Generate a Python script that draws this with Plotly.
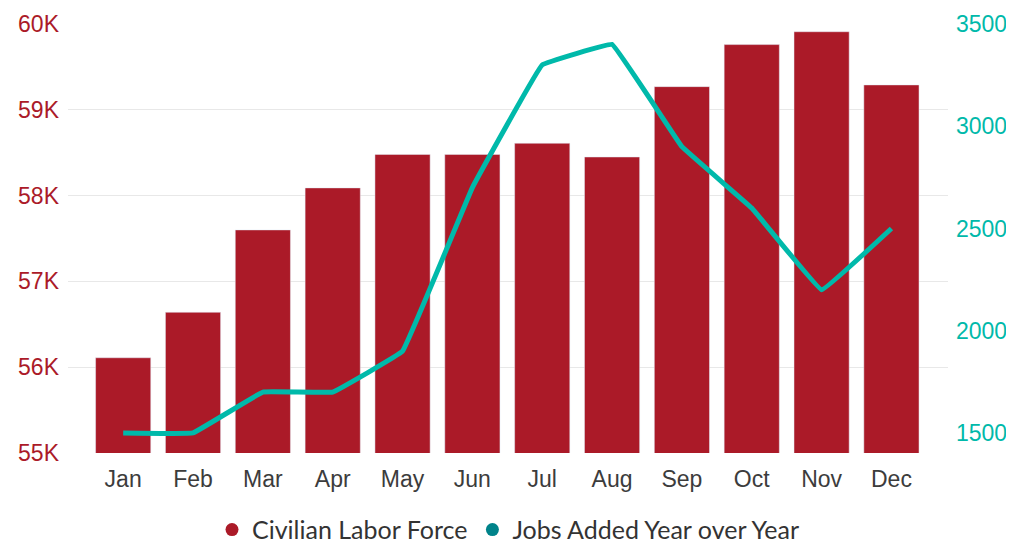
import plotly.graph_objects as go

months = ["Jan", "Feb", "Mar", "Apr", "May", "Jun", "Jul", "Aug", "Sep", "Oct", "Nov", "Dec"]
labor_force = [56110, 56640, 57600, 58090, 58480, 58480, 58610, 58450, 59270, 59760, 59910, 59290]
jobs_added = [1500, 1500, 1700, 1700, 1900, 2700, 3300, 3400, 2900, 2600, 2200, 2500]
left_ticks = [55000, 56000, 57000, 58000, 59000, 60000]
left_tick_text = ["55K", "56K", "57K", "58K", "59K", "60K"]
right_ticks = [1500, 2000, 2500, 3000, 3500]

RED = "#ab1a28"
TEAL = "#00b9aa"
TEAL_LEG = "#00838a"

fig = go.Figure()
fig.add_trace(go.Bar(x=months, y=labor_force, marker_color=RED, showlegend=False,
                     name="Civilian Labor Force"))
fig.add_trace(go.Scatter(x=months, y=jobs_added, yaxis="y2", mode="lines",
                         line=dict(color=TEAL, width=5, shape="spline", smoothing=0.15),
                         showlegend=False, name="Jobs Added Year over Year"))
fig.add_trace(go.Scatter(x=[None], y=[None], mode="markers", name="Civilian Labor Force",
                         marker=dict(color=RED, size=13, symbol="circle")))
fig.add_trace(go.Scatter(x=[None], y=[None], mode="markers", name="Jobs Added Year over Year",
                         marker=dict(color=TEAL_LEG, size=13, symbol="circle")))

fig.update_layout(
    width=1006, height=535,
    margin=dict(l=60, r=66, t=16, b=90, autoexpand=False),
    plot_bgcolor="white", paper_bgcolor="white",
    bargap=0.21,
    font=dict(family="Liberation Sans, Arial, sans-serif", size=23, color="#3c3c3c"),
    xaxis=dict(range=[-0.79, 11.81], showgrid=False, ticks="", showline=False,
               tickfont=dict(size=23, color="#3c3c3c"), ticklabelstandoff=10,
               automargin=False),
    yaxis=dict(range=[55000, 60000], tickvals=left_ticks, ticktext=left_tick_text,
               tickfont=dict(size=23, color=RED), gridcolor="#e8e8e8", gridwidth=1,
               zeroline=False, showline=False, ticklabelstandoff=8, automargin=False),
    yaxis2=dict(range=[1402, 3500], tickvals=right_ticks, overlaying="y", side="right",
                tickfont=dict(size=23, color=TEAL), showgrid=False, zeroline=False,
                showline=False, ticks="", ticklabelstandoff=7, automargin=False),
    legend=dict(orientation="h", x=0.5, xanchor="center", y=-0.179, yanchor="middle",
                font=dict(family="Lato, Noto Sans, sans-serif", size=25, color="#333333"),
                itemsizing="trace", itemwidth=30, tracegroupgap=0),
)

fig.write_html("out.html")
